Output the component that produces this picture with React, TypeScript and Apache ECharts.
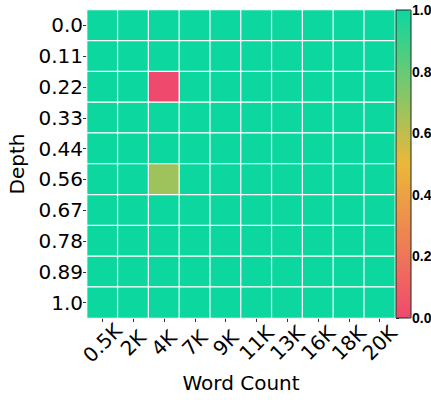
import React, { useEffect, useRef } from "react";
import * as echarts from "echarts";

const wordCounts = ["0.5K", "2K", "4K", "7K", "9K", "11K", "13K", "16K", "18K", "20K"];
const depths = ["0.0", "0.11", "0.22", "0.33", "0.44", "0.56", "0.67", "0.78", "0.89", "1.0"];
// scores[depthIndex][wordCountIndex]
const scores: number[][] = [
  [1, 1, 1, 1, 1, 1, 1, 1, 1, 1],
  [1, 1, 1, 1, 1, 1, 1, 1, 1, 1],
  [1, 1, 0, 1, 1, 1, 1, 1, 1, 1],
  [1, 1, 1, 1, 1, 1, 1, 1, 1, 1],
  [1, 1, 1, 1, 1, 1, 1, 1, 1, 1],
  [1, 1, 0.67, 1, 1, 1, 1, 1, 1, 1],
  [1, 1, 1, 1, 1, 1, 1, 1, 1, 1],
  [1, 1, 1, 1, 1, 1, 1, 1, 1, 1],
  [1, 1, 1, 1, 1, 1, 1, 1, 1, 1],
  [1, 1, 1, 1, 1, 1, 1, 1, 1, 1],
];
const colorStops = ["#F0496E", "#EBB839", "#0CD79F"];

export default function App() {
  const ref = useRef<HTMLDivElement>(null);
  useEffect(() => {
    if (!ref.current) return;
    const chart = echarts.init(ref.current, undefined, { renderer: "svg" });
    const data: [number, number, number][] = [];
    scores.forEach((row, yi) => row.forEach((v, xi) => data.push([xi, yi, v])));
    const font = "DejaVu Sans";
    chart.setOption({
      animation: false,
      backgroundColor: "#fff",
      grid: [
        { left: 87, top: 10, width: 308, height: 308, outerBoundsMode: "none", containLabel: false },
        {
          left: 396,
          top: 10,
          width: 15,
          height: 308,
          outerBoundsMode: "none",
          containLabel: false,
          show: true,
          borderColor: "#1a2a25",
          borderWidth: 1,
          backgroundColor: "transparent",
          z: 10,
        },
      ],
      xAxis: [
        {
          type: "category",
          data: wordCounts,
          gridIndex: 0,
          name: "Word Count",
          nameLocation: "middle",
          nameGap: 53,
          nameTextStyle: { fontFamily: font, fontSize: 20, color: "#000" },
          axisLine: { show: false },
          axisTick: { show: true, alignWithLabel: true, length: 4, lineStyle: { color: "#333" } },
          axisLabel: {
            rotate: 45,
            fontFamily: font,
            fontSize: 20,
            color: "#000",
            margin: 25,
            align: "center",
            verticalAlign: "middle",
            interval: 0,
            hideOverlap: false,
          },
          splitLine: { show: false },
        },
        { type: "value", gridIndex: 1, show: false, min: 0, max: 1 },
      ],
      yAxis: [
        {
          type: "category",
          data: depths,
          gridIndex: 0,
          inverse: true,
          name: "Depth",
          nameLocation: "middle",
          nameGap: 60,
          nameTextStyle: { fontFamily: font, fontSize: 20, color: "#000" },
          axisLine: { show: false },
          axisTick: { show: true, alignWithLabel: true, length: 4, lineStyle: { color: "#333" } },
          axisLabel: { fontFamily: font, fontSize: 20, color: "#000", margin: 4, interval: 0 },
          splitLine: { show: false },
        },
        {
          type: "value",
          gridIndex: 1,
          position: "right",
          min: 0,
          max: 1,
          interval: 0.2,
          axisLine: { show: false },
          axisTick: { show: true, length: 3, lineStyle: { color: "#222" } },
          axisLabel: {
            fontFamily: "Liberation Sans",
            fontWeight: "bold",
            fontSize: 14,
            color: "#000",
            margin: 1,
            formatter: (v: number) => v.toFixed(1),
          },
          splitLine: { show: false },
        },
      ],
      visualMap: {
        type: "continuous",
        min: 0,
        max: 1,
        seriesIndex: 0,
        calculable: false,
        left: 396,
        top: 10,
        itemWidth: 15,
        itemHeight: 308,
        padding: 0,
        text: ["", ""],
        showLabel: false,
        inRange: { color: colorStops },
      },
      series: [
        {
          type: "heatmap",
          xAxisIndex: 0,
          yAxisIndex: 0,
          data,
          itemStyle: { borderColor: "#fff", borderWidth: 1.2 },
          emphasis: { disabled: true },
        },
      ],
    });
    return () => chart.dispose();
  }, []);
  return (
    <div
      ref={ref}
      style={{ position: "fixed", left: 0, top: 0, width: 431, height: 400 }}
    />
  );
}
